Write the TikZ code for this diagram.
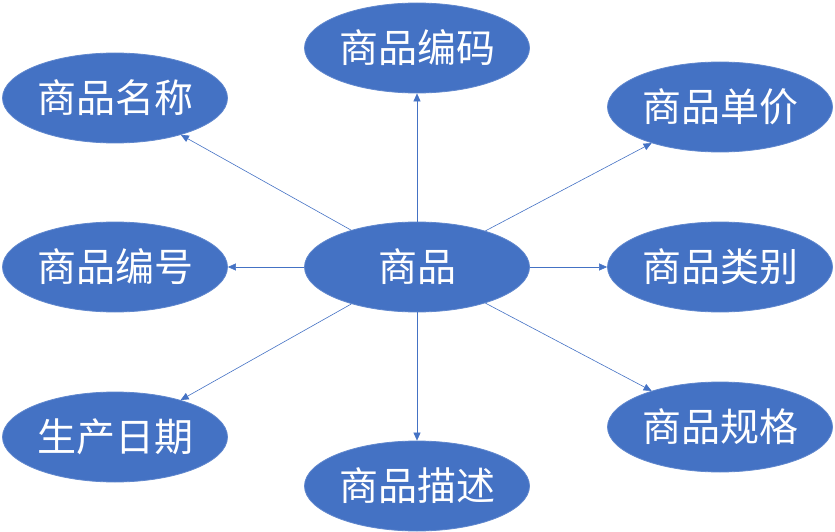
\documentclass[tikz,border=0pt]{standalone}
\usepackage{fontspec}
\setmainfont{Noto Sans CJK SC}
\usetikzlibrary{shapes.geometric,arrows.meta}
\definecolor{entblue}{HTML}{4472C4}
\begin{document}
\begin{tikzpicture}[x=1pt, y=-1pt, line width=0.6pt,
  attr/.style={ellipse, fill=entblue, draw=entblue!85!white, line width=0.8pt,
    minimum width=225pt, minimum height=90pt, inner sep=0pt,
    text=white, font=\fontsize{39}{42}\selectfont},
  link/.style={draw=entblue, -{Triangle[length=8pt, width=7pt]}}]
  \useasboundingbox (0,0) rectangle (835,532);
  \node[attr] (goods) at (417,267) {商品};
  \node[attr] (code)  at (417,48)  {商品编码};
  \node[attr] (name)  at (115,98)  {商品名称};
  \node[attr] (price) at (720,107) {商品单价};
  \node[attr] (num)   at (115,267) {商品编号};
  \node[attr] (kind)  at (720,267) {商品类别};
  \node[attr] (date)  at (115,437) {生产日期};
  \node[attr] (desc)  at (417,486) {商品描述};
  \node[attr] (spec)  at (720,427) {商品规格};
  \foreach \t in {code,name,price,num,kind,date,desc,spec}
    \draw[link] (goods) -- (\t);
\end{tikzpicture}
\end{document}
